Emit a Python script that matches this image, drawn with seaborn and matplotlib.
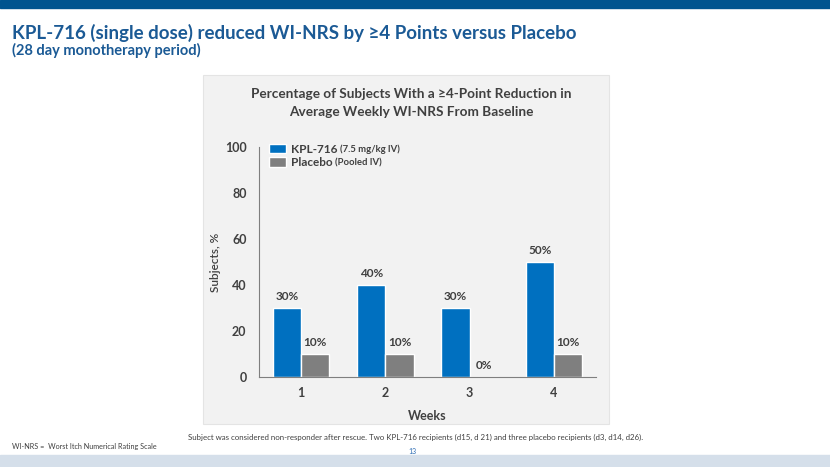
import numpy as np
import matplotlib.pyplot as plt
import seaborn as sns
import pandas as pd
from matplotlib.patches import Rectangle, Patch

# Data
weeks = ['1', '2', '3', '4']
kpl716 = [30, 40, 30, 50]
placebo = [10, 10, 0, 10]
series = ['KPL-716', 'Placebo']
series_notes = ['(7.5 mg/kg IV)', '(Pooled IV)']
colors = ['#0070C0', '#7F7F7F']

df = pd.DataFrame({
    'week': weeks * 2,
    'pct': kpl716 + placebo,
    'group': [series[0]] * 4 + [series[1]] * 4,
})

sns.set_theme(style='white')
plt.rcParams['font.family'] = ['Lato', 'DejaVu Sans']
txt = '#404040'

fig = plt.figure(figsize=(8.3, 4.67), dpi=100)
W, H = 830, 467

# slide decoration, kept behind the axes
fig.patches.append(Rectangle((0, 1 - 8 / H), 1, 8 / H, transform=fig.transFigure,
                             color='#00548F', zorder=-5))
fig.patches.append(Rectangle((0, 0), 1, 12 / H, transform=fig.transFigure,
                             color='#D5DFEA', zorder=-5))
fig.patches.append(Rectangle((203 / W, 1 - 424 / H), 406 / W, 349 / H, transform=fig.transFigure,
                             facecolor='#F2F2F2', edgecolor='#E4E4E4', lw=0.8, zorder=-5))

fig.text(12 / W, 1 - 33 / H, 'KPL-716 (single dose) reduced WI-NRS by \u22654 Points versus Placebo',
         fontsize=13.5, fontweight='bold', color='#1B5A95', va='center')
fig.text(12 / W, 1 - 50 / H, '(28 day monotherapy period)', fontsize=10.5, fontweight='bold',
         color='#1B5A95', va='center')

fig.text(411 / W, 1 - 103 / H, 'Percentage of Subjects With a \u22654-Point Reduction in\nAverage Weekly WI-NRS From Baseline',
         ha='center', va='center', fontsize=9.8, fontweight='bold', color=txt, linespacing=1.5)

ax = fig.add_axes([259 / W, 1 - 377 / H, (596 - 259) / W, (377 - 147) / H])
ax.set_facecolor('none')
sns.barplot(data=df, x='week', y='pct', hue='group', palette=colors, width=0.67,
            saturation=1, ax=ax, legend=False)

ax.set_ylim(0, 100)
ax.set_xlim(-0.5, 3.5)
ax.set_yticks([0, 20, 40, 60, 80, 100])
ax.tick_params(axis='y', length=4, width=0.8, color='#7F7F7F', labelsize=9, labelcolor=txt, pad=5)
ax.tick_params(axis='x', length=0, labelsize=9, labelcolor=txt, pad=7)
for lab in ax.get_xticklabels() + ax.get_yticklabels():
    lab.set_fontweight('bold')
for s in ['top', 'right']:
    ax.spines[s].set_visible(False)
for s in ['left', 'bottom']:
    ax.spines[s].set_color('#7F7F7F')
    ax.spines[s].set_linewidth(0.8)
ax.set_xlabel('Weeks', fontsize=9, fontweight='bold', color=txt, labelpad=8)
ax.set_ylabel('Subjects, %', fontsize=8.5, fontweight='semibold', color=txt, labelpad=3)

for cont in ax.containers:
    ax.bar_label(cont, labels=[f'{int(v)}%' for v in cont.datavalues], padding=4,
                 fontsize=8.5, fontweight='bold', color=txt)

handles = [Patch(facecolor=c) for c in colors]
leg = ax.legend(handles, series, loc='upper left', bbox_to_anchor=(0.015, 1.035), frameon=False,
                fontsize=8.5, handlelength=1.5, handleheight=0.85, handletextpad=0.35,
                labelspacing=0.2, borderaxespad=0)
for t in leg.get_texts():
    t.set_color(txt)
    t.set_fontweight('bold')

fig.canvas.draw()
r = fig.canvas.get_renderer()
for t, note in zip(leg.get_texts(), series_notes):
    bb = t.get_window_extent(r)
    fig.text((bb.x1 + 3) / fig.bbox.width, (bb.y0 + bb.y1) / 2 / fig.bbox.height, note,
             fontsize=6.8, color=txt, va='center', fontweight='bold')

fig.text(416 / W, 1 - 437 / H,
         'Subject was considered non-responder after rescue. Two KPL-716 recipients (d15, d 21) and three placebo recipients (d3, d14, d26).',
         ha='center', va='center', fontsize=5.7, color='#404040')
fig.text(12 / W, 1 - 447 / H, 'WI-NRS =  Worst Itch Numerical Rating Scale', fontsize=5.2,
         color='#404040', va='center')
fig.text(412 / W, 1 - 452 / H, '13', fontsize=5, color='#2E6DB4', ha='center', va='center')

fig.savefig('out.png', dpi=100)
